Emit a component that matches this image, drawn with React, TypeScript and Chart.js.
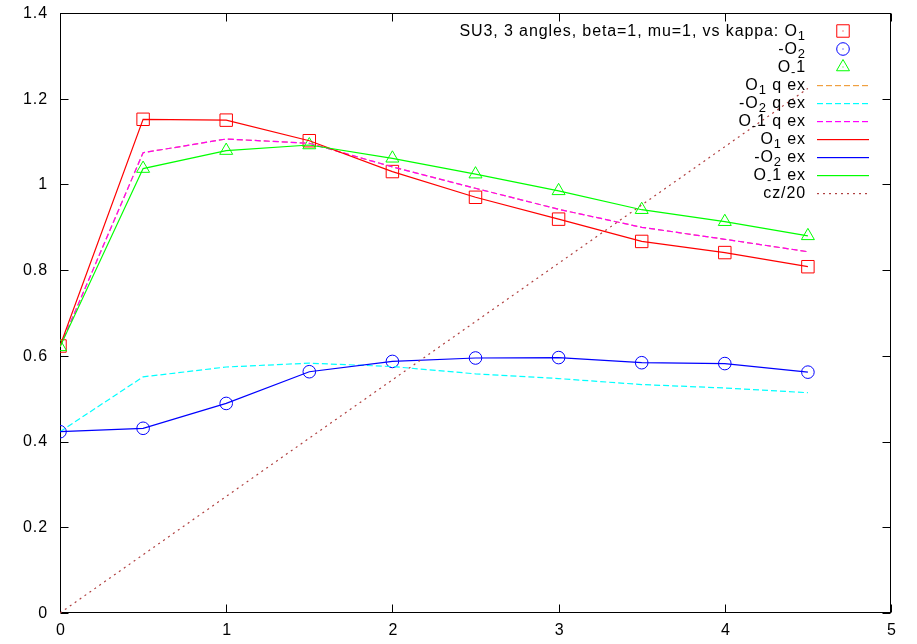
import React, { useEffect, useRef } from "react";
import { Chart, registerables } from "chart.js";

Chart.register(...registerables);

// ---------- data ----------
const kappa = [0, 0.5, 1, 1.5, 2, 2.5, 3, 3.5, 4, 4.5];

const o1Points = [0.623, 1.152, 1.150, 1.102, 1.030, 0.970, 0.919, 0.867, 0.841, 0.808];
const minusO2Points = [0.423, 0.431, 0.489, 0.563, 0.587, 0.595, 0.596, 0.584, 0.582, 0.562];
const oMinus1Points = [0.621, 1.037, 1.079, 1.092, 1.061, 1.024, 0.985, 0.941, 0.913, 0.880];

const o1QuadEx = [0.621, 1.074, 1.106, 1.096, 1.041, 0.991, 0.942, 0.900, 0.872, 0.843];
const minusO2QuadEx = [0.423, 0.551, 0.574, 0.583, 0.575, 0.558, 0.547, 0.533, 0.525, 0.514];
const oMinus1QuadEx = [0.621, 1.074, 1.106, 1.096, 1.041, 0.991, 0.942, 0.900, 0.872, 0.843];

const o1Ex = [0.623, 1.152, 1.150, 1.102, 1.030, 0.970, 0.919, 0.867, 0.841, 0.808];
const minusO2Ex = [0.423, 0.431, 0.489, 0.563, 0.587, 0.595, 0.596, 0.584, 0.582, 0.562];
const oMinus1Ex = [0.621, 1.037, 1.079, 1.092, 1.061, 1.024, 0.985, 0.941, 0.913, 0.880];

const czOver20 = [0, 0.136, 0.272, 0.408, 0.544, 0.68, 0.816, 0.952, 1.088, 1.224];

const xTickValues = [0, 1, 2, 3, 4, 5];
const xTickLabels = ["0", "1", "2", "3", "4", "5"];
const yTickValues = [0, 0.2, 0.4, 0.6, 0.8, 1, 1.2, 1.4];
const yTickLabels = ["0", "0.2", "0.4", "0.6", "0.8", "1", "1.2", "1.4"];

type Seg = { t: string; sub?: boolean };
const legendTexts: Seg[][] = [
  [{ t: "SU3, 3 angles, beta=1, mu=1, vs kappa: O" }, { t: "1", sub: true }],
  [{ t: "-O" }, { t: "2", sub: true }],
  [{ t: "O" }, { t: "-", sub: true }, { t: "1" }],
  [{ t: "O" }, { t: "1", sub: true }, { t: " q ex" }],
  [{ t: "-O" }, { t: "2", sub: true }, { t: " q ex" }],
  [{ t: "O" }, { t: "-", sub: true }, { t: "1 q ex" }],
  [{ t: "O" }, { t: "1", sub: true }, { t: " ex" }],
  [{ t: "-O" }, { t: "2", sub: true }, { t: " ex" }],
  [{ t: "O" }, { t: "-", sub: true }, { t: "1 ex" }],
  [{ t: "cz/20" }],
];

// ---------- styles ----------
const RED = "#ff0000";
const BLUE = "#0000ff";
const GREEN = "#00ff00";
const MAGENTA = "#ff00ff";
const CYAN = "#00ffff";
const ORANGE = "#f0a040";
const BROWN = "#b04040";

const FONT = '16px "Liberation Sans", Arial, sans-serif';
const SUBFONT = '13px "Liberation Sans", Arial, sans-serif';
const SPACING = "0.9px";

type Kind = { type: string; style?: string; color: string; radius?: number; dash?: number[] };

const kinds: Kind[] = [
  { type: "point", style: "rect", color: RED, radius: 8.8 },
  { type: "point", style: "circle", color: BLUE, radius: 6.3 },
  { type: "point", style: "triangle", color: GREEN, radius: 7.5 },
  { type: "line", color: ORANGE, dash: [6, 3] },
  { type: "line", color: CYAN, dash: [6, 3] },
  { type: "line", color: MAGENTA, dash: [6, 3] },
  { type: "line", color: RED, dash: [] },
  { type: "line", color: BLUE, dash: [] },
  { type: "line", color: GREEN, dash: [] },
  { type: "line", color: BROWN, dash: [2, 4] },
];

const seriesValues = [
  o1Points,
  minusO2Points,
  oMinus1Points,
  o1QuadEx,
  minusO2QuadEx,
  oMinus1QuadEx,
  o1Ex,
  minusO2Ex,
  oMinus1Ex,
  czOver20,
];

function setSpacing(ctx: any, v: string) {
  try {
    ctx.letterSpacing = v;
  } catch (e) {}
}

function drawRich(ctx: CanvasRenderingContext2D, segs: Seg[], rightX: number, centerY: number) {
  const widths: number[] = [];
  let total = 0;
  for (const s of segs) {
    ctx.font = s.sub ? SUBFONT : FONT;
    const w = ctx.measureText(s.t).width;
    widths.push(w);
    total += w;
  }
  let x = rightX - total;
  const base = centerY + 5.8;
  segs.forEach((s, i) => {
    ctx.font = s.sub ? SUBFONT : FONT;
    ctx.fillText(s.t, x, s.sub ? base + 4 : base);
    x += widths[i];
  });
}

function drawMarker(ctx: CanvasRenderingContext2D, style: string, color: string, radius: number, x: number, y: number) {
  ctx.save();
  ctx.strokeStyle = color;
  ctx.lineWidth = 1;
  ctx.setLineDash([]);
  ctx.beginPath();
  if (style === "rect") {
    const s = radius * Math.SQRT1_2;
    ctx.rect(x - s, y - s, 2 * s, 2 * s);
  } else if (style === "circle") {
    ctx.arc(x, y, radius, 0, Math.PI * 2);
  } else {
    const h = radius * 1.5;
    const hw = radius * Math.sin(Math.PI / 3);
    ctx.moveTo(x, y - radius);
    ctx.lineTo(x + hw, y - radius + h);
    ctx.lineTo(x - hw, y - radius + h);
    ctx.closePath();
  }
  ctx.stroke();
  ctx.fillStyle = color;
  ctx.fillRect(x - 0.5, y - 0.5, 1, 1);
  ctx.restore();
}

function drawSample(ctx: CanvasRenderingContext2D, color: string, dash: number[], x0: number, x1: number, y: number) {
  ctx.save();
  ctx.globalAlpha = 1;
  ctx.globalCompositeOperation = "source-over";
  ctx.fillStyle = color;
  if (!dash.length) {
    ctx.fillRect(x0, y, x1 - x0, 1.2);
  } else {
    let x = x0;
    while (x < x1) {
      const w = Math.min(dash[0], x1 - x);
      ctx.fillRect(x, y, w, 1.2);
      x += dash[0] + dash[1];
    }
  }
  ctx.restore();
}

const framePlugin = {
  id: "gnuplotFrame",
  beforeDatasetsDraw(chart: any) {
    const ctx: CanvasRenderingContext2D = chart.ctx;
    const { left, right, top, bottom } = chart.chartArea;
    const xs = chart.scales.x;
    const ys = chart.scales.y;
    ctx.save();
    ctx.strokeStyle = "#000";
    ctx.lineWidth = 1;
    ctx.setLineDash([]);
    const L = Math.round(left) + 0.5;
    const R = Math.round(right) - 0.5;
    const T = Math.round(top) + 0.5;
    const B = Math.round(bottom) - 0.5;
    ctx.strokeRect(L, T, R - L, B - T);
    ctx.beginPath();
    for (const v of xTickValues) {
      const px = Math.round(xs.getPixelForValue(v)) + 0.5;
      ctx.moveTo(px, B);
      ctx.lineTo(px, B - 8);
      ctx.moveTo(px, T);
      ctx.lineTo(px, T + 8);
    }
    for (const v of yTickValues) {
      const py = Math.round(ys.getPixelForValue(v)) + 0.5;
      ctx.moveTo(L, py);
      ctx.lineTo(L + 8, py);
      ctx.moveTo(R, py);
      ctx.lineTo(R - 8, py);
    }
    ctx.stroke();

    ctx.fillStyle = "#000";
    ctx.font = FONT;
    setSpacing(ctx, SPACING);
    ctx.textBaseline = "middle";
    ctx.textAlign = "right";
    yTickValues.forEach((v, i) => {
      ctx.fillText(yTickLabels[i], 48, ys.getPixelForValue(v) + 0.5);
    });
    ctx.textAlign = "center";
    xTickValues.forEach((v, i) => {
      ctx.fillText(xTickLabels[i], xs.getPixelForValue(v) + 1, 631);
    });
    ctx.restore();
  },
  afterDatasetsDraw(chart: any) {
    const ctx: CanvasRenderingContext2D = chart.ctx;
    const textRight = 806;
    const sampleL = 817;
    const sampleR = 869;
    const markerX = 843;
    kinds.forEach((k, i) => {
      const cy = 30 + 18 * i;
      if (k.type === "point") {
        drawMarker(ctx, k.style as string, k.color, k.radius as number, markerX, cy + 1);
      } else {
        drawSample(ctx, k.color, k.dash as number[], sampleL, sampleR, cy + 1);
      }
    });
    ctx.save();
    ctx.fillStyle = "#000";
    ctx.textAlign = "left";
    ctx.textBaseline = "alphabetic";
    setSpacing(ctx, SPACING);
    legendTexts.forEach((segs, i) => {
      drawRich(ctx, segs, textRight, 30 + 18 * i);
    });
    ctx.restore();
  },
};

export default function App() {
  const ref = useRef<HTMLCanvasElement | null>(null);

  useEffect(() => {
    if (!ref.current) return;
    const datasets = seriesValues.map((vals, i) => {
      const k = kinds[i];
      const data = kappa.map((x, j) => ({ x, y: vals[j] }));
      if (k.type === "point") {
        return {
          label: "s" + i,
          data,
          showLine: false,
          pointStyle: k.style,
          pointRadius: k.radius,
          pointBorderWidth: 1,
          pointBorderColor: k.color,
          pointBackgroundColor: "rgba(0,0,0,0)",
          borderColor: k.color,
          order: 10 - i,
        };
      }
      return {
        label: "s" + i,
        data,
        showLine: true,
        borderColor: k.color,
        borderWidth: 1.2,
        borderDash: k.dash,
        pointRadius: 0,
        tension: 0,
        fill: false,
        order: 10 - i,
      };
    });

    const chart = new Chart(ref.current, {
      type: "line",
      data: { datasets: datasets as any },
      options: {
        responsive: false,
        animation: false,
        devicePixelRatio: 1,
        layout: { padding: { top: 13, right: 26, left: 0, bottom: 0 } },
        plugins: { legend: { display: false }, tooltip: { enabled: false } },
        scales: {
          x: {
            type: "linear",
            min: 0,
            max: 5,
            ticks: { display: false },
            grid: { display: false },
            border: { display: false },
            afterFit: (s: any) => {
              s.height = 31;
            },
          },
          y: {
            type: "linear",
            min: 0,
            max: 1.4,
            ticks: { display: false },
            grid: { display: false },
            border: { display: false },
            afterFit: (s: any) => {
              s.width = 60;
            },
          },
        },
      },
      plugins: [framePlugin],
    });
    return () => chart.destroy();
  }, []);

  return (
    <div style={{ position: "fixed", left: 0, top: 0, width: 917, height: 644, background: "#fff" }}>
      <canvas ref={ref} width={917} height={644} style={{ display: "block" }} />
    </div>
  );
}
